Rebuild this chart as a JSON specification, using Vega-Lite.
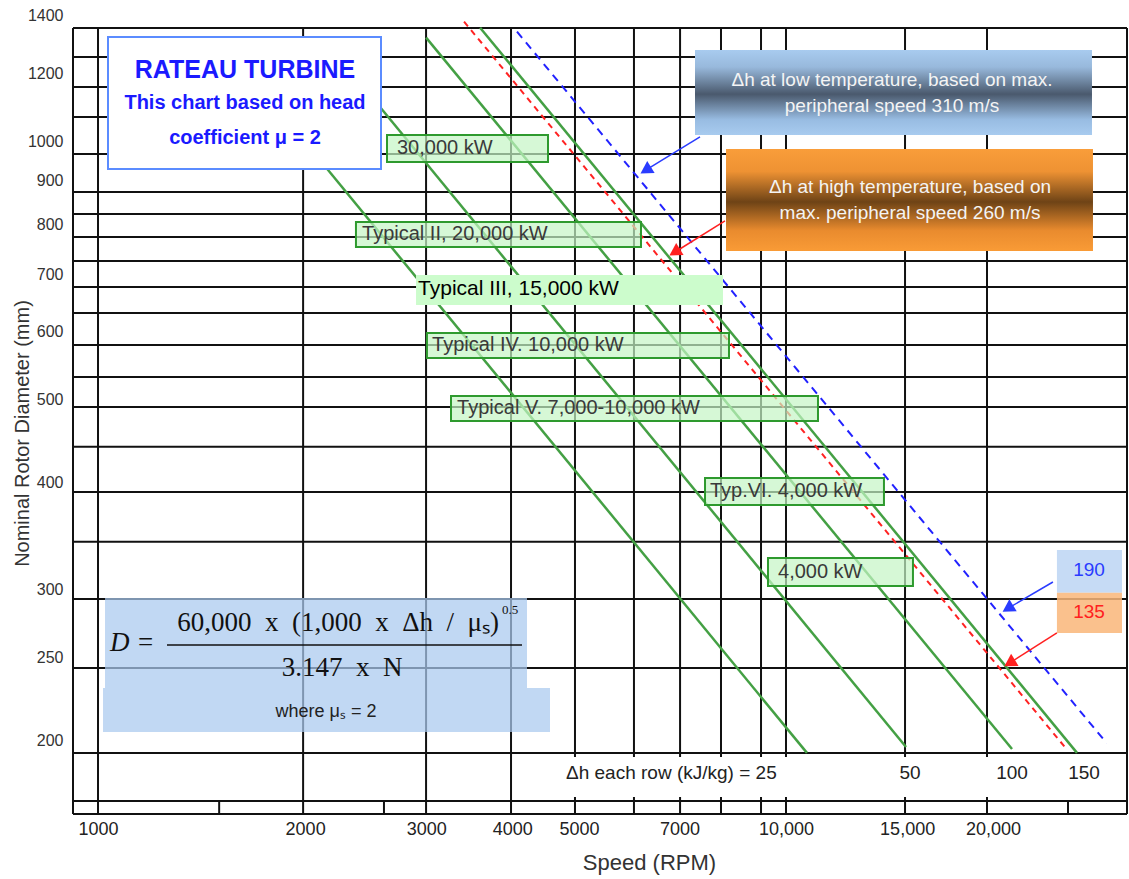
{
  "$schema": "https://vega.github.io/schema/vega-lite/v6.json",
  "width": 1054,
  "height": 804,
  "autosize": {"type": "none"},
  "padding": {"left": 73, "top": 10, "right": 2, "bottom": 65},
  "background": "white",
  "config": {"view": {"stroke": null}, "font": "Liberation Sans"},
  "resolve": {"axis": {"x": "independent", "y": "independent"}},
  "datasets": {
    "hgrid": [{"mm": 1355.3}, {"mm": 1253.6}, {"mm": 1156.8}, {"mm": 1067.4}, {"mm": 966.4}, {"mm": 872.9}, {"mm": 822.8}, {"mm": 773.6}, {"mm": 725.3}, {"mm": 676.5}, {"mm": 630.7}, {"mm": 578.8}, {"mm": 531.3}, {"mm": 490.1}, {"mm": 440.4}, {"mm": 390.2}, {"mm": 341.3}, {"mm": 292.7}, {"mm": 243.3}, {"mm": 193.7}, {"mm": 170.2}, {"mm": 164.4}],
    "vgrid": [{"rpm": 919.7}, {"rpm": 1000}, {"rpm": 1986.6}, {"rpm": 2998}, {"rpm": 3984}, {"rpm": 4935}, {"rpm": 6012}, {"rpm": 7015}, {"rpm": 8045}, {"rpm": 9198}, {"rpm": 10000}, {"rpm": 14894}, {"rpm": 19596}, {"rpm": 31308}],
    "stubs": [{"rpm": 1500}, {"rpm": 2604}, {"rpm": 25697}],
    "curves": [
      {"curve": "25", "rpm": 1595.8, "mm": 1243.8},
      {"curve": "25", "rpm": 10727, "mm": 193.7},
      {"curve": "50", "rpm": 2385.5, "mm": 1178.7},
      {"curve": "50", "rpm": 14944, "mm": 196.8},
      {"curve": "100", "rpm": 2998.4, "mm": 1320.6},
      {"curve": "100", "rpm": 21307, "mm": 195.7},
      {"curve": "150", "rpm": 3592.6, "mm": 1356.4},
      {"curve": "150", "rpm": 26484, "mm": 193.7},
      {"curve": "high", "rpm": 3404.5, "mm": 1378.4},
      {"curve": "high", "rpm": 25398, "mm": 197.0},
      {"curve": "low", "rpm": 4064.4, "mm": 1341.9},
      {"curve": "low", "rpm": 29252, "mm": 198.8}
    ],
    "powerBoxes": [
      {"label": "30,000 kW", "rpm": 2630.6, "rpm2": 4509, "mm": 1017.0, "mm2": 945.9, "trpm": 2720, "tmm": 982.1},
      {"label": "Typical II, 20,000 kW", "rpm": 2371, "rpm2": 6155, "mm": 805.3, "mm2": 753.0, "trpm": 2420, "tmm": 778.7},
      {"label": "Typical IV. 10,000 kW", "rpm": 3007, "rpm2": 8263, "mm": 597.8, "mm2": 559.0, "trpm": 3059, "tmm": 578.8},
      {"label": "Typical V. 7,000-10,000 kW", "rpm": 3259, "rpm2": 11130, "mm": 504.8, "mm2": 472.1, "trpm": 3326, "tmm": 488.2},
      {"label": "Typ.VI. 4,000 kW", "rpm": 7626, "rpm2": 13880, "mm": 405.1, "mm2": 376.8, "trpm": 7753, "tmm": 391.2},
      {"label": "4,000 kW", "rpm": 9415, "rpm2": 15295, "mm": 326.8, "mm2": 303.2, "trpm": 9736, "tmm": 314.8}
    ],
    "arrows": [
      {"kind": "low", "rpm": 7499, "mm": 1011.6, "rpm2": 6253, "mm2": 925.2},
      {"kind": "high", "rpm": 8153, "mm": 807.4, "rpm2": 6889, "mm2": 742.4},
      {"kind": "low", "rpm": 24434, "mm": 306.4, "rpm2": 21010, "mm2": 285.4},
      {"kind": "high", "rpm": 24763, "mm": 267.3, "rpm2": 21135, "mm2": 246.5}
    ],
    "limits": [
      {"kind": "low", "label": "190", "rpm": 24763, "rpm2": 30788, "mm": 333.9, "mm2": 297.6, "trpm": 27568, "tmm": 316.3},
      {"kind": "high", "label": "135", "rpm": 24763, "rpm2": 30788, "mm": 297.6, "mm2": 267.3, "trpm": 27568, "tmm": 282.7}
    ]
  },
  "layer": [
    {
      "data": {"name": "hgrid"},
      "mark": {"type": "rule", "color": "#111", "strokeWidth": 2},
      "encoding": {
        "y": {"field": "mm", "type": "quantitative", "scale": {"type": "log", "domain": [164.4, 1422.3], "nice": false},
          "axis": {"orient": "left", "values": [200, 250, 300, 400, 500, 600, 700, 800, 900, 1000, 1200, 1400], "labelExpr": "format(datum.value, 'd')", "title": "Nominal Rotor Diameter (mm)", "ticks": false, "tickSize": 0, "domain": false, "grid": false, "labelPadding": 10, "labelFontSize": 16, "labelColor": "#333", "labelFont": "Liberation Sans", "labelOverlap": false, "labelFlush": false, "titleFontSize": 20, "titleFontWeight": "normal", "titleColor": "#333", "titleFont": "Liberation Sans", "titleX": -51, "titleY": 423, "titleAngle": -90, "titleAlign": "center", "titleBaseline": "middle"}}
      }
    },
    {
      "data": {"name": "vgrid"},
      "mark": {"type": "rule", "color": "#111", "strokeWidth": 2},
      "encoding": {
        "x": {"field": "rpm", "type": "quantitative", "scale": {"type": "log", "domain": [919.7, 31308], "nice": false},
          "axis": {"orient": "bottom", "values": [1000, 2000, 3000, 4000, 5000, 7000, 10000, 15000, 20000], "labelExpr": "datum.value >= 10000 ? format(datum.value, ',') : format(datum.value, 'd')", "title": "Speed (RPM)", "ticks": false, "tickSize": 0, "domain": false, "grid": false, "labelPadding": 6, "labelFontSize": 18, "labelColor": "#222", "labelFont": "Liberation Sans", "labelOverlap": false, "labelFlush": false, "titleFontSize": 22, "titleFontWeight": "normal", "titleColor": "#333", "titleFont": "Liberation Sans", "titleX": 576, "titleY": 48, "titleBaseline": "middle", "titleAlign": "center"}},
        "y": {"datum": 164.4, "type": "quantitative", "scale": {"type": "log", "domain": [164.4, 1422.3], "nice": false}, "axis": null},
        "y2": {"datum": 1355.3}
      }
    },
    {
      "data": {"name": "stubs"},
      "mark": {"type": "rule", "color": "#111", "strokeWidth": 2},
      "encoding": {
        "x": {"field": "rpm", "type": "quantitative", "scale": {"type": "log", "domain": [919.7, 31308], "nice": false}, "axis": null},
        "y": {"datum": 164.4, "type": "quantitative", "scale": {"type": "log", "domain": [164.4, 1422.3], "nice": false}, "axis": null},
        "y2": {"datum": 170.2}
      }
    },
    {
      "data": {"values": [{"rpm": 4692, "rpm2": 30786, "mm": 191.6, "mm2": 172.1}]},
      "mark": {"type": "rect", "fill": "white"},
      "encoding": {
        "x": {"field": "rpm", "type": "quantitative", "scale": {"type": "log", "domain": [919.7, 31308], "nice": false}, "axis": null},
        "x2": {"field": "rpm2"},
        "y": {"field": "mm", "type": "quantitative", "scale": {"type": "log", "domain": [164.4, 1422.3], "nice": false}, "axis": null},
        "y2": {"field": "mm2"}
      }
    },
    {
      "data": {"name": "curves"},
      "transform": [{"filter": "datum.curve != 'high' && datum.curve != 'low'"}],
      "mark": {"type": "line", "color": "#44a044", "strokeWidth": 2.5},
      "encoding": {
        "x": {"field": "rpm", "type": "quantitative", "scale": {"type": "log", "domain": [919.7, 31308], "nice": false}, "axis": null},
        "y": {"field": "mm", "type": "quantitative", "scale": {"type": "log", "domain": [164.4, 1422.3], "nice": false}, "axis": null},
        "detail": {"field": "curve", "type": "nominal"}
      }
    },
    {
      "data": {"name": "curves"},
      "transform": [{"filter": "datum.curve == 'high'"}],
      "mark": {"type": "line", "color": "#ff2222", "strokeWidth": 2, "strokeDash": [6, 5]},
      "encoding": {
        "x": {"field": "rpm", "type": "quantitative", "scale": {"type": "log", "domain": [919.7, 31308], "nice": false}, "axis": null},
        "y": {"field": "mm", "type": "quantitative", "scale": {"type": "log", "domain": [164.4, 1422.3], "nice": false}, "axis": null}
      }
    },
    {
      "data": {"name": "curves"},
      "transform": [{"filter": "datum.curve == 'low'"}],
      "mark": {"type": "line", "color": "#2222ff", "strokeWidth": 2, "strokeDash": [8, 6]},
      "encoding": {
        "x": {"field": "rpm", "type": "quantitative", "scale": {"type": "log", "domain": [919.7, 31308], "nice": false}, "axis": null},
        "y": {"field": "mm", "type": "quantitative", "scale": {"type": "log", "domain": [164.4, 1422.3], "nice": false}, "axis": null}
      }
    },
    {
      "data": {"values": [{"rpm": 1034, "rpm2": 2578.3, "mm": 1323.0, "mm2": 928.4}]},
      "mark": {"type": "rect", "fill": "white", "stroke": "#5b8cff", "strokeWidth": 2},
      "encoding": {
        "x": {"field": "rpm", "type": "quantitative", "scale": {"type": "log", "domain": [919.7, 31308], "nice": false}, "axis": null},
        "x2": {"field": "rpm2"},
        "y": {"field": "mm", "type": "quantitative", "scale": {"type": "log", "domain": [164.4, 1422.3], "nice": false}, "axis": null},
        "y2": {"field": "mm2"}
      }
    },
    {
      "data": {"values": [{"rpm": 1023.7, "rpm2": 4202.9, "mm": 293.6, "mm2": 230.6}, {"rpm": 1016.9, "rpm2": 4539.2, "mm": 230.6, "mm2": 204.9}]},
      "mark": {"type": "rect", "fill": "#a9c9ef", "opacity": 0.72},
      "encoding": {
        "x": {"field": "rpm", "type": "quantitative", "scale": {"type": "log", "domain": [919.7, 31308], "nice": false}, "axis": null},
        "x2": {"field": "rpm2"},
        "y": {"field": "mm", "type": "quantitative", "scale": {"type": "log", "domain": [164.4, 1422.3], "nice": false}, "axis": null},
        "y2": {"field": "mm2"}
      }
    },
    {
      "data": {"name": "powerBoxes"},
      "mark": {"type": "rect", "fill": "#c4f5c4", "fillOpacity": 0.7, "stroke": "#2e9a2e", "strokeWidth": 2},
      "encoding": {
        "x": {"field": "rpm", "type": "quantitative", "scale": {"type": "log", "domain": [919.7, 31308], "nice": false}, "axis": null},
        "x2": {"field": "rpm2"},
        "y": {"field": "mm", "type": "quantitative", "scale": {"type": "log", "domain": [164.4, 1422.3], "nice": false}, "axis": null},
        "y2": {"field": "mm2"}
      }
    },
    {
      "data": {"values": [{"rpm": 2899, "rpm2": 8099, "mm": 698.5, "mm2": 644.5}]},
      "mark": {"type": "rect", "fill": "#ccfccc"},
      "encoding": {
        "x": {"field": "rpm", "type": "quantitative", "scale": {"type": "log", "domain": [919.7, 31308], "nice": false}, "axis": null},
        "x2": {"field": "rpm2"},
        "y": {"field": "mm", "type": "quantitative", "scale": {"type": "log", "domain": [164.4, 1422.3], "nice": false}, "axis": null},
        "y2": {"field": "mm2"}
      }
    },
    {
      "data": {"values": [{"rpm": 7374.5, "rpm2": 27846, "mm": 1277.5, "mm2": 1017.0}]},
      "mark": {"type": "rect", "fill": {"gradient": "linear", "x1": 0, "y1": 0, "x2": 0, "y2": 1, "stops": [{"offset": 0, "color": "#a8cbef"}, {"offset": 0.2, "color": "#98b9dc"}, {"offset": 0.52, "color": "#4a596d"}, {"offset": 0.82, "color": "#98bce2"}, {"offset": 1, "color": "#a8cbef"}]}},
      "encoding": {
        "x": {"field": "rpm", "type": "quantitative", "scale": {"type": "log", "domain": [919.7, 31308], "nice": false}, "axis": null},
        "x2": {"field": "rpm2"},
        "y": {"field": "mm", "type": "quantitative", "scale": {"type": "log", "domain": [164.4, 1422.3], "nice": false}, "axis": null},
        "y2": {"field": "mm2"}
      }
    },
    {
      "data": {"values": [{"rpm": 8181, "rpm2": 27939, "mm": 979.5, "mm2": 745.0}]},
      "mark": {"type": "rect", "fill": {"gradient": "linear", "x1": 0, "y1": 0, "x2": 0, "y2": 1, "stops": [{"offset": 0, "color": "#f99d3a"}, {"offset": 0.22, "color": "#ee9233"}, {"offset": 0.52, "color": "#6e4316"}, {"offset": 0.8, "color": "#e98b2e"}, {"offset": 1, "color": "#f99b36"}]}},
      "encoding": {
        "x": {"field": "rpm", "type": "quantitative", "scale": {"type": "log", "domain": [919.7, 31308], "nice": false}, "axis": null},
        "x2": {"field": "rpm2"},
        "y": {"field": "mm", "type": "quantitative", "scale": {"type": "log", "domain": [164.4, 1422.3], "nice": false}, "axis": null},
        "y2": {"field": "mm2"}
      }
    },
    {
      "data": {"name": "limits"},
      "transform": [{"filter": "datum.kind == 'low'"}],
      "mark": {"type": "rect", "fill": "#bcd5f3", "opacity": 0.85},
      "encoding": {
        "x": {"field": "rpm", "type": "quantitative", "scale": {"type": "log", "domain": [919.7, 31308], "nice": false}, "axis": null},
        "x2": {"field": "rpm2"},
        "y": {"field": "mm", "type": "quantitative", "scale": {"type": "log", "domain": [164.4, 1422.3], "nice": false}, "axis": null},
        "y2": {"field": "mm2"}
      }
    },
    {
      "data": {"name": "limits"},
      "transform": [{"filter": "datum.kind == 'high'"}],
      "mark": {"type": "rect", "fill": "#f9b679", "opacity": 0.85},
      "encoding": {
        "x": {"field": "rpm", "type": "quantitative", "scale": {"type": "log", "domain": [919.7, 31308], "nice": false}, "axis": null},
        "x2": {"field": "rpm2"},
        "y": {"field": "mm", "type": "quantitative", "scale": {"type": "log", "domain": [164.4, 1422.3], "nice": false}, "axis": null},
        "y2": {"field": "mm2"}
      }
    },
    {
      "data": {"name": "arrows"},
      "mark": {"type": "rule", "strokeWidth": 1.5},
      "encoding": {
        "x": {"field": "rpm", "type": "quantitative", "scale": {"type": "log", "domain": [919.7, 31308], "nice": false}, "axis": null},
        "x2": {"field": "rpm2"},
        "y": {"field": "mm", "type": "quantitative", "scale": {"type": "log", "domain": [164.4, 1422.3], "nice": false}, "axis": null},
        "y2": {"field": "mm2"},
        "color": {"field": "kind", "type": "nominal", "scale": {"domain": ["low", "high"], "range": ["#2a3cff", "#ff2020"]}, "legend": null}
      }
    },
    {
      "data": {"name": "arrows"},
      "mark": {"type": "point", "shape": "triangle-up", "filled": true, "size": 200, "angle": 238.5, "opacity": 1},
      "encoding": {
        "x": {"field": "rpm2", "type": "quantitative", "scale": {"type": "log", "domain": [919.7, 31308], "nice": false}, "axis": null},
        "y": {"field": "mm2", "type": "quantitative", "scale": {"type": "log", "domain": [164.4, 1422.3], "nice": false}, "axis": null},
        "color": {"field": "kind", "type": "nominal", "scale": {"domain": ["low", "high"], "range": ["#2a3cff", "#ff2020"]}, "legend": null}
      }
    },
    {
      "data": {"values": [{"label": "RATEAU TURBINE", "rpm": 1635.5, "mm": 1210.9}]},
      "mark": {"type": "text", "font": "Liberation Sans", "fontSize": 25, "fontWeight": "bold", "color": "#1a1aff", "align": "center", "baseline": "middle"},
      "encoding": {
        "x": {"field": "rpm", "type": "quantitative", "scale": {"type": "log", "domain": [919.7, 31308], "nice": false}, "axis": null},
        "y": {"field": "mm", "type": "quantitative", "scale": {"type": "log", "domain": [164.4, 1422.3], "nice": false}, "axis": null},
        "text": {"field": "label", "type": "nominal"}
      }
    },
    {
      "data": {"values": [{"label": "This chart based on head", "rpm": 1635.5, "mm": 1108.3}, {"label": "coefficient μ = 2", "rpm": 1635.5, "mm": 1008.9}]},
      "mark": {"type": "text", "font": "Liberation Sans", "fontSize": 20, "fontWeight": "bold", "color": "#1a1aff", "align": "center", "baseline": "middle"},
      "encoding": {
        "x": {"field": "rpm", "type": "quantitative", "scale": {"type": "log", "domain": [919.7, 31308], "nice": false}, "axis": null},
        "y": {"field": "mm", "type": "quantitative", "scale": {"type": "log", "domain": [164.4, 1422.3], "nice": false}, "axis": null},
        "text": {"field": "label", "type": "nominal"}
      }
    },
    {
      "data": {"name": "powerBoxes"},
      "mark": {"type": "text", "font": "Liberation Sans", "fontSize": 20, "color": "#3a3a3a", "align": "left", "baseline": "middle"},
      "encoding": {
        "x": {"field": "trpm", "type": "quantitative", "scale": {"type": "log", "domain": [919.7, 31308], "nice": false}, "axis": null},
        "y": {"field": "tmm", "type": "quantitative", "scale": {"type": "log", "domain": [164.4, 1422.3], "nice": false}, "axis": null},
        "text": {"field": "label", "type": "nominal"}
      }
    },
    {
      "data": {"values": [{"label": "Typical III, 15,000 kW", "rpm": 2919, "mm": 671.9}]},
      "mark": {"type": "text", "font": "Liberation Sans", "fontSize": 21, "color": "#000", "align": "left", "baseline": "middle"},
      "encoding": {
        "x": {"field": "rpm", "type": "quantitative", "scale": {"type": "log", "domain": [919.7, 31308], "nice": false}, "axis": null},
        "y": {"field": "mm", "type": "quantitative", "scale": {"type": "log", "domain": [164.4, 1422.3], "nice": false}, "axis": null},
        "text": {"field": "label", "type": "nominal"}
      }
    },
    {
      "data": {"values": [
        {"label": "Δh at low temperature, based on max.", "rpm": 14258, "mm": 1178.7},
        {"label": "peripheral speed 310 m/s", "rpm": 14258, "mm": 1099.2},
        {"label": "Δh at high temperature, based on", "rpm": 15144, "mm": 884.6},
        {"label": "max. peripheral speed 260 m/s", "rpm": 15144, "mm": 825.0}
      ]},
      "mark": {"type": "text", "font": "Liberation Sans", "fontSize": 19, "color": "#f4f4f4", "align": "center", "baseline": "middle"},
      "encoding": {
        "x": {"field": "rpm", "type": "quantitative", "scale": {"type": "log", "domain": [919.7, 31308], "nice": false}, "axis": null},
        "y": {"field": "mm", "type": "quantitative", "scale": {"type": "log", "domain": [164.4, 1422.3], "nice": false}, "axis": null},
        "text": {"field": "label", "type": "nominal"}
      }
    },
    {
      "data": {"name": "limits"},
      "mark": {"type": "text", "font": "Liberation Sans", "fontSize": 19, "align": "center", "baseline": "middle"},
      "encoding": {
        "x": {"field": "trpm", "type": "quantitative", "scale": {"type": "log", "domain": [919.7, 31308], "nice": false}, "axis": null},
        "y": {"field": "tmm", "type": "quantitative", "scale": {"type": "log", "domain": [164.4, 1422.3], "nice": false}, "axis": null},
        "text": {"field": "label", "type": "nominal"},
        "color": {"field": "kind", "type": "nominal", "scale": {"domain": ["low", "high"], "range": ["#2a3cff", "#ff2020"]}, "legend": null}
      }
    },
    {
      "data": {"values": [{"label": "D =", "rpm": 1041, "mm": 260.2}]},
      "mark": {"type": "text", "font": "Liberation Serif", "fontSize": 27, "fontStyle": "italic", "color": "#111", "align": "left", "baseline": "middle"},
      "encoding": {
        "x": {"field": "rpm", "type": "quantitative", "scale": {"type": "log", "domain": [919.7, 31308], "nice": false}, "axis": null},
        "y": {"field": "mm", "type": "quantitative", "scale": {"type": "log", "domain": [164.4, 1422.3], "nice": false}, "axis": null},
        "text": {"field": "label", "type": "nominal"}
      }
    },
    {
      "data": {"values": [{"label": "60,000\u2002x\u2002(1,000\u2002x\u2002Δh\u2002/\u2002μₛ)", "rpm": 3827, "mm": 274.5}]},
      "mark": {"type": "text", "font": "Liberation Serif", "fontSize": 27, "color": "#111", "align": "right", "baseline": "middle"},
      "encoding": {
        "x": {"field": "rpm", "type": "quantitative", "scale": {"type": "log", "domain": [919.7, 31308], "nice": false}, "axis": null},
        "y": {"field": "mm", "type": "quantitative", "scale": {"type": "log", "domain": [164.4, 1422.3], "nice": false}, "axis": null},
        "text": {"field": "label", "type": "nominal"}
      }
    },
    {
      "data": {"values": [{"label": "0.5", "rpm": 3865, "mm": 284.3}]},
      "mark": {"type": "text", "font": "Liberation Serif", "fontSize": 13, "color": "#111", "align": "left", "baseline": "middle"},
      "encoding": {
        "x": {"field": "rpm", "type": "quantitative", "scale": {"type": "log", "domain": [919.7, 31308], "nice": false}, "axis": null},
        "y": {"field": "mm", "type": "quantitative", "scale": {"type": "log", "domain": [164.4, 1422.3], "nice": false}, "axis": null},
        "text": {"field": "label", "type": "nominal"}
      }
    },
    {
      "data": {"values": [{"rpm": 1259.7, "rpm2": 4133, "mm": 258.8}]},
      "mark": {"type": "rule", "color": "#111", "strokeWidth": 1.5},
      "encoding": {
        "x": {"field": "rpm", "type": "quantitative", "scale": {"type": "log", "domain": [919.7, 31308], "nice": false}, "axis": null},
        "x2": {"field": "rpm2"},
        "y": {"field": "mm", "type": "quantitative", "scale": {"type": "log", "domain": [164.4, 1422.3], "nice": false}, "axis": null}
      }
    },
    {
      "data": {"values": [{"label": "3.147\u2002x\u2002N", "rpm": 2263, "mm": 243.3}]},
      "mark": {"type": "text", "font": "Liberation Serif", "fontSize": 27, "color": "#111", "align": "center", "baseline": "middle"},
      "encoding": {
        "x": {"field": "rpm", "type": "quantitative", "scale": {"type": "log", "domain": [919.7, 31308], "nice": false}, "axis": null},
        "y": {"field": "mm", "type": "quantitative", "scale": {"type": "log", "domain": [164.4, 1422.3], "nice": false}, "axis": null},
        "text": {"field": "label", "type": "nominal"}
      }
    },
    {
      "data": {"values": [{"label": "where μₛ = 2", "rpm": 2145, "mm": 216.2}]},
      "mark": {"type": "text", "font": "Liberation Sans", "fontSize": 18, "color": "#222", "align": "center", "baseline": "middle"},
      "encoding": {
        "x": {"field": "rpm", "type": "quantitative", "scale": {"type": "log", "domain": [919.7, 31308], "nice": false}, "axis": null},
        "y": {"field": "mm", "type": "quantitative", "scale": {"type": "log", "domain": [164.4, 1422.3], "nice": false}, "axis": null},
        "text": {"field": "label", "type": "nominal"}
      }
    },
    {
      "data": {"values": [{"label": "Δh each row (kJ/kg) = 25", "rpm": 4789, "mm": 183.6}]},
      "mark": {"type": "text", "font": "Liberation Sans", "fontSize": 19, "color": "#222", "align": "left", "baseline": "middle"},
      "encoding": {
        "x": {"field": "rpm", "type": "quantitative", "scale": {"type": "log", "domain": [919.7, 31308], "nice": false}, "axis": null},
        "y": {"field": "mm", "type": "quantitative", "scale": {"type": "log", "domain": [164.4, 1422.3], "nice": false}, "axis": null},
        "text": {"field": "label", "type": "nominal"}
      }
    },
    {
      "data": {"values": [{"label": "50", "rpm": 15144, "mm": 183.6}, {"label": "100", "rpm": 21307, "mm": 183.6}, {"label": "150", "rpm": 27111, "mm": 183.6}]},
      "mark": {"type": "text", "font": "Liberation Sans", "fontSize": 19, "color": "#222", "align": "center", "baseline": "middle"},
      "encoding": {
        "x": {"field": "rpm", "type": "quantitative", "scale": {"type": "log", "domain": [919.7, 31308], "nice": false}, "axis": null},
        "y": {"field": "mm", "type": "quantitative", "scale": {"type": "log", "domain": [164.4, 1422.3], "nice": false}, "axis": null},
        "text": {"field": "label", "type": "nominal"}
      }
    }
  ]
}
